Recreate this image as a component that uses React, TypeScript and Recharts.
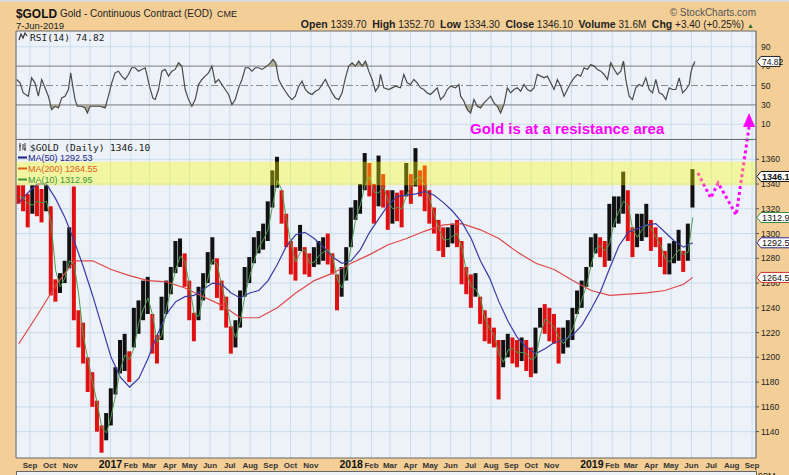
import React from 'react';
import {
  ComposedChart,
  Bar,
  Line,
  Area,
  Scatter,
  XAxis,
  YAxis,
  CartesianGrid,
  ReferenceLine,
  ReferenceArea,
  Cell,
} from 'recharts';

const TAN = '#F3CF97';
const PANEL = '#EDF1F8';
const GRID = '#C9DCEC';
const SANS = '"Liberation Sans", Arial, sans-serif';
const MONO = '"DejaVu Sans Mono", monospace';
const PINK = '#ff00ff';

// x unit = weeks since Mon 15-Aug-2016
const X_MIN = -0.6;
const X_MAX = 159.7;
const PRICE_DOMAIN: [number, number] = [1118.7, 1463.6];
const RSI_DOMAIN: [number, number] = [-334, 106.2];
const PANEL_SPLIT = 1376;

// weekly bar ranges, week 0 = 15-Aug-2016 ... week 146 = 3-Jun-2019
const weekLow = [
  1324, 1318, 1305, 1316, 1314, 1309, 1318, 1250, 1245, 1252,
  1260, 1272, 1230, 1208, 1195, 1172, 1160, 1140, 1123, 1133,
  1145, 1170, 1187, 1189, 1180, 1208, 1219, 1230, 1235, 1203,
  1195, 1214, 1235, 1251, 1268, 1273, 1257, 1230, 1213, 1230,
  1246, 1260, 1275, 1248, 1238, 1224, 1203, 1208, 1224, 1249,
  1260, 1276, 1284, 1287, 1294, 1321, 1337, 1308, 1289, 1267,
  1262, 1286, 1267, 1265, 1273, 1275, 1278, 1275, 1267, 1238,
  1249, 1262, 1289, 1311, 1316, 1335, 1330, 1308, 1322, 1321,
  1303, 1308, 1310, 1305, 1330, 1324, 1338, 1330, 1318, 1308,
  1300, 1286, 1281, 1289, 1292, 1289, 1259, 1251, 1240, 1249,
  1227, 1213, 1211, 1208, 1166, 1192, 1200, 1195, 1192, 1197,
  1189, 1184, 1187, 1224, 1219, 1213, 1211, 1195, 1203, 1208,
  1214, 1235, 1240, 1257, 1273, 1284, 1281, 1273, 1278, 1305,
  1308, 1316, 1294, 1281, 1289, 1294, 1297, 1286, 1289, 1273,
  1267, 1267, 1276, 1278, 1269, 1278, 1321,
];
const weekHigh = [
  1339, 1339, 1332, 1339, 1339, 1336, 1339, 1322, 1263, 1268,
  1278, 1305, 1338, 1238, 1228, 1200, 1188, 1165, 1145, 1155,
  1175, 1192, 1214, 1219, 1205, 1240, 1246, 1262, 1265, 1235,
  1218, 1249, 1262, 1273, 1294, 1296, 1284, 1262, 1236, 1257,
  1268, 1285, 1297, 1280, 1262, 1249, 1225, 1230, 1254, 1273,
  1281, 1297, 1302, 1308, 1326, 1351, 1362, 1335, 1316, 1294,
  1289, 1307, 1289, 1284, 1289, 1294, 1297, 1300, 1284, 1267,
  1273, 1289, 1321, 1327, 1340, 1365, 1357, 1340, 1363, 1348,
  1335, 1335, 1333, 1335, 1357, 1348, 1369, 1351, 1355, 1335,
  1321, 1311, 1305, 1305, 1308, 1311, 1294, 1273, 1267, 1268,
  1249, 1238, 1232, 1224, 1214, 1214, 1219, 1216, 1214, 1216,
  1214, 1208, 1224, 1240, 1243, 1240, 1235, 1224, 1224, 1230,
  1240, 1254, 1262, 1273, 1297, 1300, 1297, 1294, 1324, 1330,
  1330, 1350, 1335, 1305, 1316, 1316, 1324, 1311, 1305, 1297,
  1286, 1292, 1294, 1303, 1286, 1308, 1352,
];
const ma10 = [
  1330, 1329, 1324, 1323, 1326, 1325, 1326, 1308, 1270, 1257,
  1264, 1278, 1275, 1250, 1217, 1198, 1180, 1163, 1143, 1139,
  1152, 1170, 1190, 1202, 1198, 1208, 1228, 1239, 1248, 1234,
  1212, 1218, 1240, 1255, 1271, 1282, 1277, 1258, 1235, 1233,
  1250, 1264, 1279, 1275, 1257, 1243, 1225, 1216, 1229, 1250,
  1265, 1278, 1289, 1295, 1303, 1323, 1343, 1335, 1311, 1291,
  1277, 1285, 1287, 1276, 1277, 1282, 1285, 1287, 1281, 1263,
  1256, 1268, 1290, 1312, 1323, 1339, 1346, 1333, 1333, 1338,
  1326, 1320, 1321, 1320, 1331, 1339, 1344, 1346, 1338, 1328,
  1315, 1304, 1295, 1295, 1298, 1300, 1288, 1269, 1257, 1255,
  1248, 1231, 1223, 1218, 1203, 1196, 1206, 1207, 1204, 1204,
  1203, 1198, 1200, 1218, 1231, 1228, 1224, 1216, 1211, 1216,
  1223, 1235, 1247, 1258, 1275, 1288, 1290, 1286, 1292, 1309,
  1318, 1326, 1323, 1303, 1297, 1303, 1307, 1304, 1297, 1291,
  1280, 1277, 1282, 1287, 1283, 1285, 1313,
];

const ma50Week = [
  0, 2, 4, 6, 8, 10, 12, 14, 16, 18, 20, 22, 24, 26, 28, 30, 32, 34, 36, 38,
  40, 42, 44, 46, 48, 50, 52, 54, 56, 58, 60, 62, 64, 66, 68, 70, 72, 74, 76, 78,
  80, 82, 84, 86, 88, 90, 92, 94, 96, 98, 100, 102, 104, 106, 108, 110, 112, 114,
  116, 118, 120, 122, 124, 126, 128, 130, 132, 134, 136, 138, 140, 142, 144, 146,
];
const ma50 = [
  1325, 1333, 1340, 1340, 1328, 1313, 1294, 1273, 1250, 1225,
  1200, 1184, 1176, 1183, 1199, 1218, 1235, 1245, 1249, 1250,
  1255, 1260, 1259, 1252, 1248, 1252, 1254, 1262, 1275, 1290,
  1299, 1301, 1296, 1289, 1281, 1276, 1278, 1287, 1301, 1312,
  1323, 1330, 1331, 1332, 1334, 1331, 1325, 1318, 1309, 1296,
  1278, 1264, 1245, 1229, 1216, 1208, 1203, 1207, 1212, 1214,
  1218, 1226, 1239, 1253, 1272, 1290, 1301, 1304, 1307, 1308,
  1301, 1294, 1289, 1292.5,
];

const ma200Week = [
  0, 4, 8, 12, 16, 20, 24, 28, 32, 36, 40, 44, 48, 52, 56, 60, 64, 68, 72,
  76, 80, 84, 88, 92, 96, 100, 104, 108, 112, 116, 120, 124, 128, 132, 136,
  140, 144, 146,
];
const ma200 = [
  1211, 1234, 1258, 1278, 1278, 1271, 1266, 1262, 1261, 1256, 1249, 1242,
  1232, 1232, 1240, 1252, 1262, 1268, 1276, 1283, 1291, 1296, 1302, 1307,
  1308, 1303, 1296, 1285, 1276, 1271, 1262, 1254, 1250, 1251, 1252, 1254,
  1259, 1264.6,
];

const rsiWeek = [
  -0.46, 0.26, 0.98, 2.06, 2.79, 3.51, 4.24, 4.96, 5.68, 6.41, 7.13, 7.85, 8.58, 9.3, 10.02,
  10.75, 11.25, 11.69, 12.19, 12.7, 13.64, 14.36, 14.87, 15.44, 16.53, 17.61, 18.7, 19.42,
  20.14, 20.87, 21.59, 22.31, 23.04, 23.76, 24.48, 25.21, 25.93, 26.65, 27.38, 27.74, 28.31,
  29.04, 29.54, 30.27, 30.99, 31.71, 32.44, 33.16, 33.88, 34.61, 35.33, 36.05, 36.78, 37.5,
  38.22, 38.94, 39.67, 40.39, 41.11, 41.84, 42.56, 43.28, 44.01, 44.73, 45.45, 46.18, 46.9,
  47.62, 48.35, 49.07, 49.79, 50.51, 51.24, 51.96, 52.68, 53.77, 54.49, 55.07, 55.65, 56.3,
  57.02, 57.74, 58.47, 59.19, 59.91, 60.64, 61.36, 62.08, 62.8, 63.53, 64.25, 64.97, 65.7,
  66.42, 67.14, 67.87, 68.59, 69.31, 70.04, 70.76, 71.48, 72.21, 72.93, 73.65, 74.38, 75.1,
  75.82, 76.55, 77.27, 77.99, 78.35, 79.07, 80.16, 80.88, 81.6,
  82.69, 83.41, 84.14, 84.86, 85.58, 86.3, 87.03, 87.75, 88.47, 89.2, 89.92, 90.64, 91.37,
  92.09, 92.81, 93.54, 94.62, 95.34, 95.71, 96.43, 97.15, 97.88, 98.6, 99.32, 100.04,
  100.77, 101.49, 102.21, 102.94, 103.66, 104.38, 105.1, 105.83, 106.55, 107.27, 108.0,
  108.72, 109.44, 110.17, 110.89, 111.61, 112.33, 113.06, 113.78, 114.5, 115.23, 115.95,
  116.67, 117.4, 118.12, 118.84, 119.57, 120.29, 121.01, 121.73, 122.46, 123.18, 123.9,
  124.63, 125.35, 126.07, 126.8, 127.52, 128.24, 128.97, 129.69, 130.41, 130.99, 131.49,
  132.22, 132.94, 133.66, 134.38, 135.11, 135.83, 136.55, 137.28, 138.0, 138.72, 139.45,
  140.17, 140.89, 141.62, 142.34, 143.06, 143.79, 144.51, 145.23, 145.59, 145.96, 146.46,
];
const rsiValue = [
  56.2, 52.8, 42.4, 39.0, 57.9, 52.8, 39.0, 56.2, 47.6, 39.0, 25.2, 28.6, 26.9, 37.2, 39.0,
  45.9, 63.1, 49.3, 35.5, 28.6, 28.6, 26.9, 21.7, 28.6, 28.6, 28.6, 26.9, 39.0,
  52.8, 63.1, 64.8, 59.7, 56.2, 61.4, 68.3, 68.3, 64.8, 66.6, 68.3, 61.4, 49.3,
  37.2, 35.5, 45.9, 64.8, 66.6, 59.7, 64.8, 66.6, 73.4, 70.0, 45.9, 35.5, 28.6,
  35.5, 51.0, 56.2, 59.7, 63.1, 70.0, 52.8, 56.2, 51.0, 45.9, 40.7, 30.3, 35.5,
  47.6, 56.2, 68.3, 68.3, 64.8, 68.3, 68.3, 66.6, 70.0, 73.4, 76.9, 73.4, 56.2,
  49.3, 44.1, 39.0, 35.5, 39.0, 49.3, 54.5, 45.9, 42.4, 40.7, 44.1, 45.9, 51.0,
  56.2, 49.3, 42.4, 37.2, 35.5, 42.4, 57.9, 70.0, 73.4, 70.0, 75.2, 70.0, 75.2,
  64.8, 56.2, 44.1, 49.3, 61.4, 47.6, 45.9, 47.6, 49.3,
  47.6, 61.4, 52.8, 51.0, 56.2, 52.8, 47.6, 45.9, 42.4, 40.7, 44.1, 47.6, 35.5,
  39.0, 45.9, 49.3, 47.6, 51.0, 39.0, 33.8, 25.2, 21.7, 35.5, 28.6, 26.9,
  32.1, 35.5, 39.0, 32.1, 28.6, 21.7, 30.3, 47.6, 42.4, 45.9, 47.6,
  44.1, 51.0, 45.9, 44.1, 47.6, 61.4, 59.7, 57.9, 59.7, 52.8, 45.9,
  56.2, 49.3, 39.0, 45.9, 52.8, 57.9, 61.4, 59.7, 68.3, 66.6, 71.7,
  70.0, 66.6, 64.8, 61.4, 56.2, 73.4, 66.6, 61.4, 64.8, 75.2, 56.2,
  39.0, 35.5, 47.6, 51.0, 49.3, 57.9, 45.9, 42.4, 56.2, 42.4, 40.7,
  35.5, 47.6, 45.9, 45.9, 57.9, 42.4, 45.9, 51.0, 63.1, 70.0, 74.82,
];

// hand-drawn projection
const arrowWeek = [147.1, 149.9, 151.5, 155.4, 158.2];
const arrowPrice = [1348.9, 1328.7, 1340.9, 1315.0, 1386.1];
const arrowHeadWeek = [158.2];
const arrowHeadPrice = [1391.7];

const priceTicks = [1140, 1160, 1180, 1200, 1220, 1240, 1260, 1280, 1300, 1320, 1340, 1360];
const rsiTicks = [90, 70, 50, 30, 10];
const monthLabels = [
  'Sep', 'Oct', 'Nov', '', '2017', 'Feb', 'Mar', 'Apr', 'May', 'Jun', 'Jul', 'Aug',
  'Sep', 'Oct', 'Nov', '', '2018', 'Feb', 'Mar', 'Apr', 'May', 'Jun', 'Jul', 'Aug',
  'Sep', 'Oct', 'Nov', '', '2019', 'Feb', 'Mar', 'Apr', 'May', 'Jun', 'Jul', 'Aug', 'Sep',
];

const START = Date.UTC(2016, 7, 15);
const monthTicks = monthLabels.map((_, k) => (Date.UTC(2016, 8 + k, 1) - START) / 86400000 / 7);
const tickLabel = new Map(monthTicks.map((w, k) => [w, monthLabels[k]]));

const priceRows = weekLow.map((lo, i) => {
  const hi = weekHigh[i];
  const mid = (lo + hi) / 2;
  const prev = i > 0 ? (weekLow[i - 1] + weekHigh[i - 1]) / 2 : mid;
  return { w: i, lo, hi, up: mid > prev };
});
const ma10Rows = ma10.map((v, i) => ({ w: i, v }));
const ma50Rows = ma50Week.map((w, k) => ({ w, v: ma50[k] }));
const ma200Rows = ma200Week.map((w, k) => ({ w, v: ma200[k] }));
const rsiRows = rsiWeek.map((w, k) => ({ w, v: rsiValue[k] }));
const arrowRows = arrowWeek.map((w, k) => ({ w, p: arrowPrice[k] }));
const arrowHeadRows = arrowHeadWeek.map((w, k) => ({ w, p: arrowHeadPrice[k] }));

function MonthTick(props: any) {
  const { x, y, payload } = props;
  const label = tickLabel.get(payload.value) ?? '';
  const year = /^\d{4}$/.test(label);
  return (
    <text
      x={x}
      y={y + 10}
      textAnchor="middle"
      fontFamily={SANS}
      fontSize={year ? 10.5 : 8}
      fontWeight="bold"
      fill={year ? '#111' : '#333'}
    >
      {label}
    </text>
  );
}

function Tag(props: any) {
  const { viewBox, text, stroke, bold, w = 40, size = 9 } = props;
  if (!viewBox) return null;
  const x = viewBox.x + viewBox.width + 1;
  const y = viewBox.y;
  const h = 10;
  return (
    <g>
      <path
        d={`M${x} ${y} L${x + 4} ${y - h / 2} L${x + w} ${y - h / 2} L${x + w} ${y + h / 2} L${x + 4} ${y + h / 2} Z`}
        fill="#fff"
        stroke={stroke}
        strokeWidth={1}
      />
      <text x={x + 5} y={y + 3.3} fontFamily={SANS} fontSize={size} fontWeight={bold ? 'bold' : 'normal'} fill="#111">
        {text}
      </text>
    </g>
  );
}

function ArrowHead(props: any) {
  const { cx, cy } = props;
  return <path d={`M${cx} ${cy - 7} L${cx - 6} ${cy + 7} L${cx + 6} ${cy + 7} Z`} fill={PINK} />;
}

export default function App() {
  return (
    <div
      style={{
        position: 'absolute',
        left: 0,
        top: 0,
        width: 789,
        height: 475,
        background: TAN,
        overflow: 'hidden',
        fontFamily: SANS,
      }}
    >
      <div style={{ position: 'absolute', left: 0, top: 0, width: 789, height: 2, background: '#dcdcdc' }} />
      <div
        style={{
          position: 'absolute',
          left: 16,
          top: 471,
          width: 739,
          height: 10,
          background: PANEL,
          border: '1px solid #666',
        }}
      />
      <ComposedChart
        width={789}
        height={471}
        data={priceRows}
        margin={{ top: 31, right: 0, bottom: 1, left: 16 }}
      >
        <CartesianGrid horizontal={false} stroke={GRID} fill={PANEL} />
        <XAxis
          dataKey="w"
          type="number"
          domain={[X_MIN, X_MAX]}
          allowDataOverflow
          ticks={monthTicks}
          interval={0}
          tick={<MonthTick />}
          tickLine={false}
          axisLine={false}
          tickSize={0}
          tickMargin={0}
          height={12}
        />
        <XAxis xAxisId="bars" dataKey="w" type="number" domain={[X_MIN, X_MAX]} allowDataOverflow hide />
        <YAxis
          yAxisId="price"
          orientation="right"
          type="number"
          domain={PRICE_DOMAIN}
          allowDataOverflow
          ticks={priceTicks}
          interval={0}
          width={33}
          tickSize={3}
          tickMargin={2}
          tick={{ fontSize: 8.5, fill: '#222', fontFamily: SANS }}
          axisLine={{ stroke: '#555' }}
          tickLine={{ stroke: '#555' }}
        />
        <YAxis yAxisId="rsi" hide type="number" domain={RSI_DOMAIN} allowDataOverflow />

        {priceTicks.map((t) => (
          <ReferenceLine key={`pg${t}`} yAxisId="price" y={t} stroke={GRID} zIndex={-50} />
        ))}
        {rsiTicks.map((t) => (
          <ReferenceLine
            key={`rg${t}`}
            yAxisId="rsi"
            y={t}
            stroke={t === 70 || t === 30 ? '#7c7c7c' : t === 50 ? '#8a8a8a' : GRID}
            strokeDasharray={t === 50 ? '7 3 2 3' : undefined}
            zIndex={-50}
            label={{ value: String(t), position: 'right', offset: 5, fontSize: 8.5, fill: '#222', fontFamily: SANS }}
          />
        ))}

        <Area
          yAxisId="rsi"
          data={rsiRows}
          dataKey={(d: any) => [70, Math.max(70, d.v)]}
          stroke="none"
          fill="#a9a98e"
          fillOpacity={0.9}
          isAnimationActive={false}
        />
        <Area
          yAxisId="rsi"
          data={rsiRows}
          dataKey={(d: any) => [Math.min(30, d.v), 30]}
          stroke="none"
          fill="#a9a98e"
          fillOpacity={0.9}
          isAnimationActive={false}
        />
        <Line
          yAxisId="rsi"
          data={rsiRows}
          dataKey="v"
          stroke="#4a4a4a"
          strokeWidth={1.2}
          dot={false}
          isAnimationActive={false}
        />

        <Bar
          xAxisId="bars"
          yAxisId="price"
          dataKey={(d: any) => [d.lo, d.hi]}
          barSize={4}
          isAnimationActive={false}
        >
          {priceRows.map((r) => (
            <Cell key={r.w} fill={r.up ? '#111111' : '#e01010'} />
          ))}
        </Bar>
        <Line yAxisId="price" data={ma200Rows} dataKey="v" stroke="#e04646" strokeWidth={1.2} dot={false} isAnimationActive={false} />
        <Line yAxisId="price" data={ma50Rows} dataKey="v" stroke="#3a3aa6" strokeWidth={1.2} dot={false} isAnimationActive={false} />
        <Line yAxisId="price" data={ma10Rows} dataKey="v" stroke="#4d9d4d" strokeWidth={1} dot={false} isAnimationActive={false} />

        <ReferenceArea yAxisId="price" y1={1339} y2={1358} fill="#ffff00" fillOpacity={0.35} stroke="none" zIndex={450} />

        <ReferenceLine yAxisId="price" y={PANEL_SPLIT} stroke="#666" zIndex={450} />
        <ReferenceLine yAxisId="price" y={PRICE_DOMAIN[1]} stroke="#666" zIndex={450} />
        <ReferenceLine yAxisId="price" y={PRICE_DOMAIN[0]} stroke="#666" zIndex={450} />
        <ReferenceLine yAxisId="price" x={X_MIN} stroke="#666" zIndex={450} />

        <Line
          yAxisId="price"
          data={arrowRows}
          dataKey="p"
          stroke={PINK}
          strokeWidth={3}
          strokeDasharray="3 3"
          dot={false}
          isAnimationActive={false}
        />
        <Scatter yAxisId="price" data={arrowHeadRows} dataKey="p" shape={<ArrowHead />} isAnimationActive={false} />

        <ReferenceLine yAxisId="rsi" y={74.82} stroke="none" zIndex={2100} label={<Tag text="74.82" stroke="#222" w={23} size={8.5} />} />
        <ReferenceLine yAxisId="price" y={1264.55} stroke="none" zIndex={2100} label={<Tag text="1264.55" stroke="#d03030" />} />
        <ReferenceLine yAxisId="price" y={1292.53} stroke="none" zIndex={2100} label={<Tag text="1292.53" stroke="#2a2a90" />} />
        <ReferenceLine yAxisId="price" y={1312.95} stroke="none" zIndex={2100} label={<Tag text="1312.95" stroke="#3a8a3a" />} />
        <ReferenceLine yAxisId="price" y={1346.1} stroke="none" zIndex={2100} label={<Tag text="1346.10" stroke="#111" bold />} />
      </ComposedChart>

      <svg
        width={789}
        height={475}
        style={{ position: 'absolute', left: 0, top: 0, pointerEvents: 'none' }}
      >
        <text x={16} y={17.5} fontFamily={SANS} fontSize={13} fontWeight="bold" fill="#111" textLength={41} lengthAdjust="spacingAndGlyphs">$GOLD</text>
        <text x={60} y={17} fontFamily={SANS} fontSize={10} fill="#222">Gold - Continuous Contract (EOD)</text>
        <text x={217} y={17} fontFamily={SANS} fontSize={9} fill="#222">CME</text>
        <text x={16} y={28.5} fontFamily={SANS} fontSize={9.5} fill="#222">7-Jun-2019</text>
        <text x={756} y={16} textAnchor="end" fontFamily={SANS} fontSize={10} fill="#555">© StockCharts.com</text>
        <text x={744} y={28} textAnchor="end" fontFamily={SANS} fontSize={10} fill="#222" style={{ whiteSpace: 'pre' }}>
          <tspan fontWeight="bold" fontSize={10.5}>Open</tspan>
          <tspan>{' 1339.70  '}</tspan>
          <tspan fontWeight="bold" fontSize={10.5}>High</tspan>
          <tspan>{' 1352.70  '}</tspan>
          <tspan fontWeight="bold" fontSize={10.5}>Low</tspan>
          <tspan>{' 1334.30  '}</tspan>
          <tspan fontWeight="bold" fontSize={10.5}>Close</tspan>
          <tspan>{' 1346.10  '}</tspan>
          <tspan fontWeight="bold" fontSize={10.5}>Volume</tspan>
          <tspan>{' 31.6M  '}</tspan>
          <tspan fontWeight="bold" fontSize={10.5}>Chg</tspan>
          <tspan>{' +3.40 (+0.25%)'}</tspan>
        </text>
        <text x={747} y={28} fontFamily={SANS} fontSize={7} fill="#2a6a2a">▲</text>

        <path d="M19 40 L21 34 L23 38 L25 33 L27 36" fill="none" stroke="#333" strokeWidth={1.2} />
        <text x={30} y={40.5} fontFamily={MONO} fontSize={9.5} fill="#222">RSI(14) 74.82</text>

        <path d="M20 143 V151 M19 146 H21 M23 144 V150 M25 143 V151 M24 149 H26" stroke="#333" strokeWidth={1} />
        <text x={30} y={150.5} fontFamily={MONO} fontSize={9.5} fill="#222">$GOLD (Daily) 1346.10</text>
        <path d="M18 157.5 H27" stroke="#1e1e86" strokeWidth={2} />
        <text x={28} y={160.5} fontFamily={SANS} fontSize={9} fill="#1e1e86">MA(50) 1292.53</text>
        <path d="M18 168.5 H27" stroke="#e0601a" strokeWidth={2} />
        <text x={28} y={171.5} fontFamily={SANS} fontSize={9} fill="#e0601a">MA(200) 1264.55</text>
        <path d="M18 179.5 H27" stroke="#3a963a" strokeWidth={2} />
        <text x={28} y={182.5} fontFamily={SANS} fontSize={9} fill="#3a963a">MA(10) 1312.95</text>

        <text x={470} y={133.5} fontFamily={SANS} fontSize={15} fontWeight="bold" fill={PINK}>
          Gold is at a resistance area
        </text>
        <text x={758} y={479} fontFamily={SANS} fontSize={9} fill="#222">90M</text>
      </svg>
    </div>
  );
}
